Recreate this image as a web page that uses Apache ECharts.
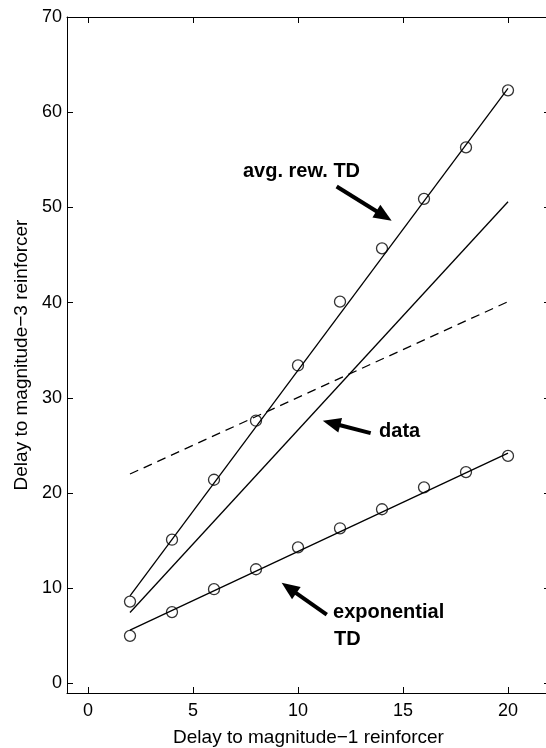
<!DOCTYPE html>
<html>
<head>
<meta charset="utf-8">
<script src="https://cdn.jsdelivr.net/npm/echarts@6/dist/echarts.min.js"></script>
<style>
html,body{margin:0;padding:0;background:#fff;}
#c{width:546px;height:748px;}
</style>
</head>
<body>
<div id="c"></div>
<script>
// ---- data ----
const xs = [2, 4, 6, 8, 10, 12, 14, 16, 18, 20];
const avgRewTD = [8.6, 15.1, 21.4, 27.6, 33.4, 40.1, 45.7, 50.9, 56.3, 62.3];
const expTD = [5.0, 7.5, 9.9, 12.0, 14.3, 16.3, 18.3, 20.6, 22.2, 23.9];
const fitX = [2, 20];
const avgRewFit = [9.2, 62.5];
const dataFit = [7.45, 50.6];
const dashedFit = [22.0, 40.1];
const expFit = [5.6, 24.2];
const xTicks = [0, 5, 10, 15, 20];
const yTicks = [0, 10, 20, 30, 40, 50, 60, 70];
const xName = 'Delay to magnitude\u22121 reinforcer';
const yName = 'Delay to magnitude\u22123 reinforcer';

// annotations (data coords)
const arrows = [
  { tail: [11.84, 52.2], tip: [14.46, 48.6] },
  { tail: [13.46, 26.3], tip: [11.18, 27.6] },
  { tail: [11.37, 7.24], tip: [9.22, 10.57] }
];
const notes = [
  { text: 'avg. rew. TD', at: [7.38, 53.73] },
  { text: 'data', at: [13.86, 26.44] },
  { text: 'exponential', at: [11.67, 7.45] },
  { text: 'TD', at: [11.71, 4.67] }
];

const zip = (a, b) => a.map((v, i) => [v, b[i]]);
const FONT = '"Liberation Sans", Arial, Helvetica, sans-serif';

const chart = echarts.init(document.getElementById('c'), null, { renderer: 'canvas' });

const axisCommon = {
  axisLine: { show: true, onZero: false, lineStyle: { color: '#000', width: 1 } },
  axisTick: { show: true, inside: true, length: 6, lineStyle: { color: '#000', width: 1 } },
  splitLine: { show: false }
};

const lineSeries = (vals, dashed) => ({
  type: 'line',
  data: zip(fitX, vals),
  xAxisIndex: 0, yAxisIndex: 0,
  symbol: 'none',
  silent: true,
  animation: false,
  lineStyle: { color: '#000', width: 1.3, type: dashed ? [9, 6] : 'solid' }
});
const pointSeries = (vals) => ({
  type: 'scatter',
  data: zip(xs, vals),
  xAxisIndex: 0, yAxisIndex: 0,
  symbol: 'circle',
  symbolSize: 11,
  silent: true,
  animation: false,
  itemStyle: { color: 'rgba(0,0,0,0)', borderColor: '#000', borderWidth: 1.3 }
});

chart.setOption({
  animation: false,
  backgroundColor: '#fff',
  grid: { left: 67, top: 17, width: 483, height: 676, containLabel: false, outerBoundsMode: 'none' },
  xAxis: [
    Object.assign({}, axisCommon, {
      type: 'value', min: -1, max: 22, position: 'bottom',
      axisTick: Object.assign({}, axisCommon.axisTick, { customValues: xTicks }),
      axisLabel: { customValues: xTicks, color: '#000', fontSize: 18, fontFamily: FONT, margin: 9 },
      name: xName, nameLocation: 'middle', nameGap: 35,
      nameTextStyle: { color: '#000', fontSize: 19, fontFamily: FONT }
    }),
    Object.assign({}, axisCommon, {
      type: 'value', min: -1, max: 22, position: 'top',
      axisTick: Object.assign({}, axisCommon.axisTick, { customValues: xTicks }),
      axisLabel: { show: false }
    })
  ],
  yAxis: [
    Object.assign({}, axisCommon, {
      type: 'value', min: -1, max: 70, position: 'left',
      axisTick: Object.assign({}, axisCommon.axisTick, { customValues: yTicks }),
      axisLabel: { customValues: yTicks, color: '#000', fontSize: 18, fontFamily: FONT, margin: 5 },
      name: yName, nameLocation: 'middle', nameGap: 36,
      nameTextStyle: { color: '#000', fontSize: 19, fontFamily: FONT }
    }),
    Object.assign({}, axisCommon, {
      type: 'value', min: -1, max: 70, position: 'right',
      axisTick: Object.assign({}, axisCommon.axisTick, { customValues: yTicks }),
      axisLabel: { show: false }
    })
  ],
  series: [
    lineSeries(avgRewFit, false),
    lineSeries(dataFit, false),
    lineSeries(dashedFit, true),
    lineSeries(expFit, false),
    pointSeries(avgRewTD),
    pointSeries(expTD)
  ]
});

// annotations via the chart's own coordinate conversion
const px = (p) => chart.convertToPixel({ xAxisIndex: 0, yAxisIndex: 0 }, p);
const graphics = [];
arrows.forEach(a => {
  const t = px(a.tail), h = px(a.tip);
  const dx = h[0] - t[0], dy = h[1] - t[1];
  const len = Math.sqrt(dx * dx + dy * dy);
  const ux = dx / len, uy = dy / len;
  const headL = 18, headW = 7.5;
  const bx = h[0] - ux * headL, by = h[1] - uy * headL;
  graphics.push({
    type: 'line', silent: true,
    shape: { x1: t[0], y1: t[1], x2: bx + ux * 2, y2: by + uy * 2 },
    style: { stroke: '#000', lineWidth: 4 }
  });
  graphics.push({
    type: 'polygon', silent: true,
    shape: { points: [[h[0], h[1]], [bx - uy * headW, by + ux * headW], [bx + uy * headW, by - ux * headW]] },
    style: { fill: '#000' }
  });
});
notes.forEach(n => {
  const p = px(n.at);
  graphics.push({
    type: 'text', silent: true,
    x: p[0], y: p[1],
    style: { text: n.text, fill: '#000', font: 'bold 20px ' + FONT, align: 'left', verticalAlign: 'middle' }
  });
});
chart.setOption({ graphic: graphics });
</script>
</body>
</html>
